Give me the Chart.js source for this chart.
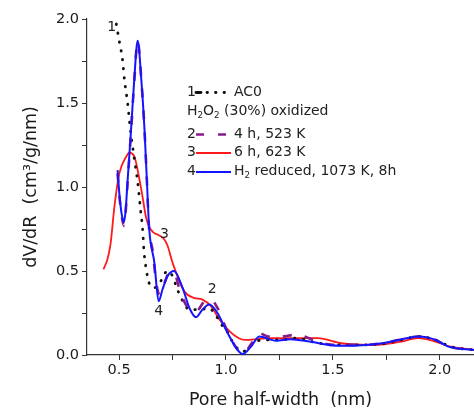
<!DOCTYPE html>
<html>
<head>
<meta charset="utf-8">
<script src="https://cdn.jsdelivr.net/npm/chart.js@4/dist/chart.umd.min.js"></script>
<style>
  html, body { margin: 0; padding: 0; background: #ffffff; }
  canvas { display: block; }
</style>
</head>
<body>
<canvas id="psd" width="474" height="412"></canvas>
<script>
// Pore size distributions: pore half-width (nm) vs dV/dR (cm3/g/nm)

// 1 - AC0
const ac0X = [0.487, 0.505, 0.515, 0.525, 0.54, 0.553, 0.57, 0.587, 0.60, 0.61, 0.617, 0.627, 0.64, 0.657, 0.68, 0.70, 0.725, 0.75, 0.77, 0.79, 0.83, 0.88, 0.92, 0.95, 0.98, 1.00, 1.04, 1.08, 1.11, 1.14, 1.19, 1.25, 1.33, 1.40, 1.50, 1.65, 1.75, 1.82, 1.90, 1.98, 2.05, 2.16];
const ac0Y = [1.97, 1.84, 1.77, 1.64, 1.50, 1.34, 1.18, 1.03, 0.87, 0.75, 0.61, 0.51, 0.43, 0.40, 0.41, 0.45, 0.50, 0.47, 0.40, 0.34, 0.27, 0.27, 0.28, 0.24, 0.18, 0.15, 0.06, 0.02, 0.05, 0.08, 0.09, 0.09, 0.10, 0.08, 0.06, 0.06, 0.07, 0.09, 0.11, 0.09, 0.05, 0.03];

// 2 - H2O2 oxidized, 4 h, 523 K
const ox4hX = [0.493, 0.502, 0.512, 0.522, 0.53, 0.54, 0.556, 0.57, 0.587, 0.604, 0.619, 0.63, 0.64, 0.657, 0.675, 0.69, 0.71, 0.735, 0.755, 0.79, 0.83, 0.86, 0.90, 0.93, 0.96, 1.00, 1.05, 1.08, 1.12, 1.155, 1.20, 1.25, 1.33, 1.41, 1.50, 1.65, 1.73, 1.81, 1.90, 1.98, 2.04, 2.16];
const ox4hY = [1.08, 0.94, 0.83, 0.77, 0.84, 1.03, 1.33, 1.61, 1.87, 1.64, 1.34, 1.04, 0.76, 0.62, 0.42, 0.36, 0.42, 0.49, 0.49, 0.36, 0.27, 0.26, 0.32, 0.33, 0.28, 0.16, 0.04, 0.01, 0.07, 0.13, 0.11, 0.11, 0.12, 0.09, 0.06, 0.06, 0.07, 0.09, 0.11, 0.09, 0.05, 0.03];

// 3 - H2O2 oxidized, 6 h, 623 K
const ox6hX = [0.427, 0.445, 0.46, 0.478, 0.501, 0.533, 0.548, 0.572, 0.587, 0.61, 0.626, 0.642, 0.66, 0.69, 0.71, 0.727, 0.75, 0.805, 0.85, 0.89, 0.93, 0.97, 1.01, 1.06, 1.09, 1.15, 1.20, 1.30, 1.43, 1.54, 1.67, 1.75, 1.82, 1.90, 1.98, 2.05, 2.16];
const ox6hY = [0.51, 0.567, 0.66, 0.88, 1.08, 1.18, 1.204, 1.18, 1.10, 0.94, 0.82, 0.76, 0.73, 0.71, 0.69, 0.65, 0.55, 0.38, 0.34, 0.33, 0.29, 0.21, 0.15, 0.10, 0.09, 0.095, 0.10, 0.10, 0.10, 0.07, 0.06, 0.065, 0.08, 0.10, 0.08, 0.05, 0.03];

// 4 - H2 reduced, 1073 K, 8 h
const h2redX = [0.493, 0.502, 0.512, 0.522, 0.53, 0.54, 0.556, 0.57, 0.587, 0.604, 0.619, 0.63, 0.641, 0.665, 0.685, 0.703, 0.727, 0.757, 0.797, 0.829, 0.86, 0.89, 0.922, 0.96, 1.00, 1.054, 1.078, 1.117, 1.156, 1.234, 1.30, 1.39, 1.48, 1.545, 1.654, 1.73, 1.81, 1.90, 1.98, 2.04, 2.16];
const h2redY = [1.10, 0.95, 0.84, 0.79, 0.85, 1.04, 1.34, 1.62, 1.87, 1.64, 1.34, 1.04, 0.75, 0.55, 0.32, 0.39, 0.47, 0.50, 0.40, 0.28, 0.225, 0.27, 0.30, 0.25, 0.15, 0.03, 0.006, 0.05, 0.11, 0.085, 0.094, 0.08, 0.06, 0.055, 0.06, 0.07, 0.09, 0.11, 0.09, 0.05, 0.03];

// Axis ticks
const xMajorTicks = [0.5, 1.0, 1.5, 2.0];
const xMinorTicks = [0.75, 1.25, 1.75];
const yMajorTicks = [0.0, 0.5, 1.0, 1.5, 2.0];
const yMinorTicks = [0.25, 0.75, 1.25, 1.75];

// Text
const xTitle = 'Pore half-width  (nm)';
const yTitle = 'dV/dR  (cm\u00B3/g/nm)';
const curveNumbers = ['1', '2', '3', '4'];
// Legend rows: [curve number, dataset index or -1, text runs (run[1] = 1 marks a subscript)]
const legendRows = [
  ['1', 0, [['AC0']]],
  ['', -1, [['H'], ['2', 1], ['O'], ['2', 1], [' (30%) oxidized']]],
  ['2', 1, [['4 h, 523 K']]],
  ['3', 2, [['6 h, 623 K']]],
  ['4', 3, [['H'], ['2', 1], [' reduced, 1073 K, 8h']]]
];

const FONT = '"DejaVu Sans", "Liberation Sans", Arial, sans-serif';

function points(xs, ys) {
  return xs.map((x, i) => ({ x: x, y: ys[i] }));
}

function tickList(major, minor) {
  return major.concat(minor).sort((a, b) => a - b).map(v => ({ value: v }));
}

function isMajor(list, v) {
  return list.some(m => Math.abs(m - v) < 1e-9);
}

// Number tags placed next to the curves (data coordinates)
const curveTagAt = [
  { x: 0.465, y: 1.95 },
  { x: 0.935, y: 0.39 },
  { x: 0.712, y: 0.72 },
  { x: 0.685, y: 0.258 }
];

function drawRuns(ctx, runs, x, y, size) {
  let cx = x;
  runs.forEach(r => {
    if (r[1]) {
      ctx.font = (size * 0.62).toFixed(1) + 'px ' + FONT;
      ctx.fillText(r[0], cx, y + size * 0.32);
    } else {
      ctx.font = size + 'px ' + FONT;
      ctx.fillText(r[0], cx, y);
    }
    cx += ctx.measureText(r[0]).width;
  });
}

const annotations = {
  id: 'psdAnnotations',
  afterDatasetsDraw(chart) {
    const ctx = chart.ctx;
    const xs = chart.scales.x, ys = chart.scales.y;
    ctx.save();
    ctx.fillStyle = '#222';
    ctx.textBaseline = 'middle';
    ctx.textAlign = 'center';
    ctx.font = '14px ' + FONT;
    curveNumbers.forEach((t, i) => {
      const p = curveTagAt[i];
      ctx.fillText(t, xs.getPixelForValue(p.x), ys.getPixelForValue(p.y));
    });

    // legend block
    const size = 14;
    const left = 187, lineL = 196, lineR = 231, textX = 234;
    const rowY = [92, 111, 134, 152.5, 171.5];
    ctx.textAlign = 'left';
    legendRows.forEach((row, i) => {
      const y = rowY[i];
      ctx.fillStyle = '#222';
      ctx.font = size + 'px ' + FONT;
      if (row[1] < 0) {
        drawRuns(ctx, row[2], left, y, size);
        return;
      }
      ctx.fillText(row[0], left, y);
      const ds = chart.data.datasets[row[1]];
      ctx.save();
      ctx.strokeStyle = ds.borderColor;
      ctx.lineWidth = ds.borderWidth;
      ctx.lineCap = ds.borderCapStyle || 'butt';
      if (row[1] === 0) {
        ctx.setLineDash([5, 6, 0.5, 8, 0.5, 8, 0.5, 60]);
      } else if (ds.borderDash && ds.borderDash.length) {
        ctx.setLineDash([8, 14]);
      }
      ctx.beginPath();
      ctx.moveTo(lineL, y + 0.5);
      ctx.lineTo(lineR, y + 0.5);
      ctx.stroke();
      ctx.restore();
      ctx.fillStyle = '#222';
      drawRuns(ctx, row[2], textX, y, size);
    });
    ctx.restore();
  }
};

const tickFont = { family: FONT, size: 14.5 };
const titleFont = { family: FONT, size: 17.5 };

new Chart(document.getElementById('psd'), {
  type: 'line',
  data: {
    datasets: [
      {
        label: 'AC0',
        data: points(ac0X, ac0Y),
        borderColor: '#111111',
        borderWidth: 2.8,
        borderDash: [0.5, 8.5],
        borderCapStyle: 'round',
        order: 3
      },
      {
        label: '4 h, 523 K',
        data: points(ox4hX, ox4hY),
        borderColor: '#861b8c',
        borderWidth: 2.6,
        borderDash: [9, 13],
        order: 2
      },
      {
        label: '6 h, 623 K',
        data: points(ox6hX, ox6hY),
        borderColor: '#ff1a1a',
        borderWidth: 1.8,
        order: 4
      },
      {
        label: 'H2 reduced, 1073 K, 8h',
        data: points(h2redX, h2redY),
        borderColor: '#1414ff',
        borderWidth: 2,
        order: 1
      }
    ]
  },
  options: {
    responsive: false,
    animation: false,
    parsing: false,
    layout: { padding: { top: 19, right: 0, bottom: 0, left: 0 } },
    elements: {
      point: { radius: 0 },
      line: { cubicInterpolationMode: 'monotone', fill: false }
    },
    datasets: { line: { clip: false } },
    plugins: {
      legend: { display: false },
      tooltip: { enabled: false }
    },
    scales: {
      x: {
        type: 'linear',
        min: 0.35,
        max: 2.16,
        afterFit(s) { s.height = 57; },
        afterBuildTicks(s) { s.ticks = tickList(xMajorTicks, xMinorTicks); },
        border: { display: true, color: '#333', width: 1.2 },
        grid: { display: true, drawOnChartArea: false, drawTicks: true, tickLength: 5, tickColor: '#333' },
        ticks: {
          autoSkip: false,
          maxRotation: 0,
          padding: 2,
          color: '#1a1a1a',
          font: tickFont,
          callback: v => isMajor(xMajorTicks, v) ? v.toFixed(1) : ''
        },
        title: { display: true, text: xTitle, color: '#1a1a1a', font: titleFont, padding: { top: 0, bottom: 1.5 } }
      },
      y: {
        type: 'linear',
        min: 0,
        max: 2.0,
        afterFit(s) { s.width = 87; },
        afterBuildTicks(s) { s.ticks = tickList(yMajorTicks, yMinorTicks); },
        border: { display: true, color: '#333', width: 1.2 },
        grid: { display: true, drawOnChartArea: false, drawTicks: true, tickLength: 5, tickColor: '#333' },
        ticks: {
          autoSkip: false,
          padding: 3,
          color: '#1a1a1a',
          font: tickFont,
          callback: v => isMajor(yMajorTicks, v) ? v.toFixed(1) : ''
        },
        title: { display: true, text: yTitle, color: '#1a1a1a', font: titleFont, padding: { top: 20.5, bottom: 0 } }
      }
    }
  },
  plugins: [annotations]
});
</script>
</body>
</html>
